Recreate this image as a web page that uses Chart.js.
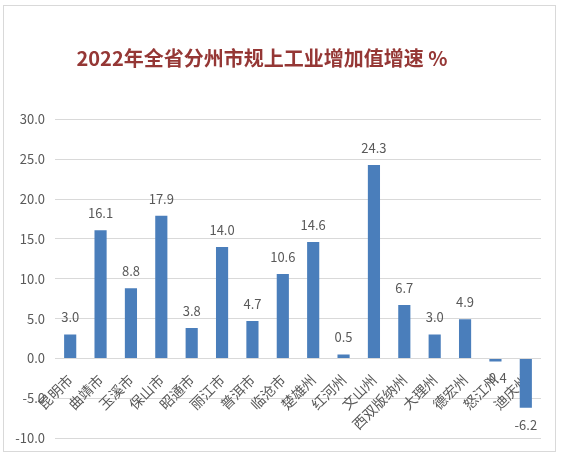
<!DOCTYPE html>
<html>
<head>
<meta charset="utf-8">
<script src="https://cdn.jsdelivr.net/npm/chart.js@4.4.1/dist/chart.umd.min.js"></script>
<style>
  html, body { margin: 0; padding: 0; background: #ffffff; }
  #wrap { width: 562px; height: 459px; position: relative; }
</style>
</head>
<body>
<div id="wrap"><canvas id="c"></canvas></div>
<script>
const titleText = '2022年全省分州市规上工业增加值增速 %';
const categories = ['昆明市', '曲靖市', '玉溪市', '保山市', '昭通市', '丽江市', '普洱市', '临沧市', '楚雄州', '红河州', '文山州', '西双版纳州', '大理州', '德宏州', '怒江州', '迪庆州'];
const growthValues = [3.0, 16.1, 8.8, 17.9, 3.8, 14.0, 4.7, 10.6, 14.6, 0.5, 24.3, 6.7, 3.0, 4.9, -0.4, -6.2];
const yTickMin = -10;
const yTickMax = 30;
const yTickStep = 5;

const FONT = '"Noto Sans CJK SC", "Noto Sans", sans-serif';
const TEXT_GRAY = '#595959';

const frameAndTitle = {
  id: 'frameAndTitle',
  beforeDraw(chart) {
    const ctx = chart.ctx;
    ctx.save();
    ctx.fillStyle = '#ffffff';
    ctx.fillRect(0, 0, chart.width, chart.height);
    ctx.strokeStyle = '#d9d9d9';
    ctx.lineWidth = 1;
    ctx.strokeRect(3.5, 5.5, 552, 446);
    ctx.restore();
  },
  afterDraw(chart) {
    const ctx = chart.ctx;
    ctx.save();
    ctx.font = 'bold 20px ' + FONT;
    ctx.fillStyle = '#953735';
    ctx.textAlign = 'center';
    ctx.textBaseline = 'middle';
    ctx.fillText(titleText, 262, 58);
    ctx.restore();
  }
};

const valueLabels = {
  id: 'valueLabels',
  afterDatasetsDraw(chart) {
    const ctx = chart.ctx;
    const meta = chart.getDatasetMeta(0);
    const data = chart.data.datasets[0].data;
    ctx.save();
    ctx.font = '13px ' + FONT;
    ctx.fillStyle = TEXT_GRAY;
    ctx.textAlign = 'center';
    ctx.textBaseline = 'middle';
    meta.data.forEach((bar, i) => {
      const v = data[i];
      const y = v >= 0 ? bar.y - 17 : bar.y + 17;
      ctx.fillText(v.toFixed(1), bar.x, y);
    });
    ctx.restore();
  }
};

new Chart(document.getElementById('c'), {
  type: 'bar',
  data: {
    labels: categories,
    datasets: [{
      data: growthValues,
      backgroundColor: '#4a7ebb',
      borderWidth: 0,
      categoryPercentage: 1.0,
      barPercentage: 0.4
    }]
  },
  options: {
    responsive: true,
    maintainAspectRatio: false,
    animation: false,
    devicePixelRatio: 1,
    layout: { padding: { top: 119.5, bottom: 21, left: 0, right: 21 } },
    plugins: {
      legend: { display: false },
      title: { display: false },
      tooltip: { enabled: false }
    },
    scales: {
      x: {
        position: { y: 0 },
        grid: { display: false, drawTicks: false },
        border: { display: false },
        ticks: {
          autoSkip: false,
          minRotation: 45,
          maxRotation: 45,
          padding: 13,
          color: TEXT_GRAY,
          font: { family: FONT, size: 14 }
        }
      },
      y: {
        min: yTickMin,
        max: yTickMax,
        grid: { color: '#d9d9d9', lineWidth: 1, drawTicks: false },
        border: { display: false },
        afterFit(scale) { scale.width = 55; },
        ticks: {
          stepSize: yTickStep,
          padding: 10,
          color: TEXT_GRAY,
          font: { family: FONT, size: 13 },
          callback: (v) => Number(v).toFixed(1)
        }
      }
    }
  },
  plugins: [frameAndTitle, valueLabels]
});
</script>
</body>
</html>
